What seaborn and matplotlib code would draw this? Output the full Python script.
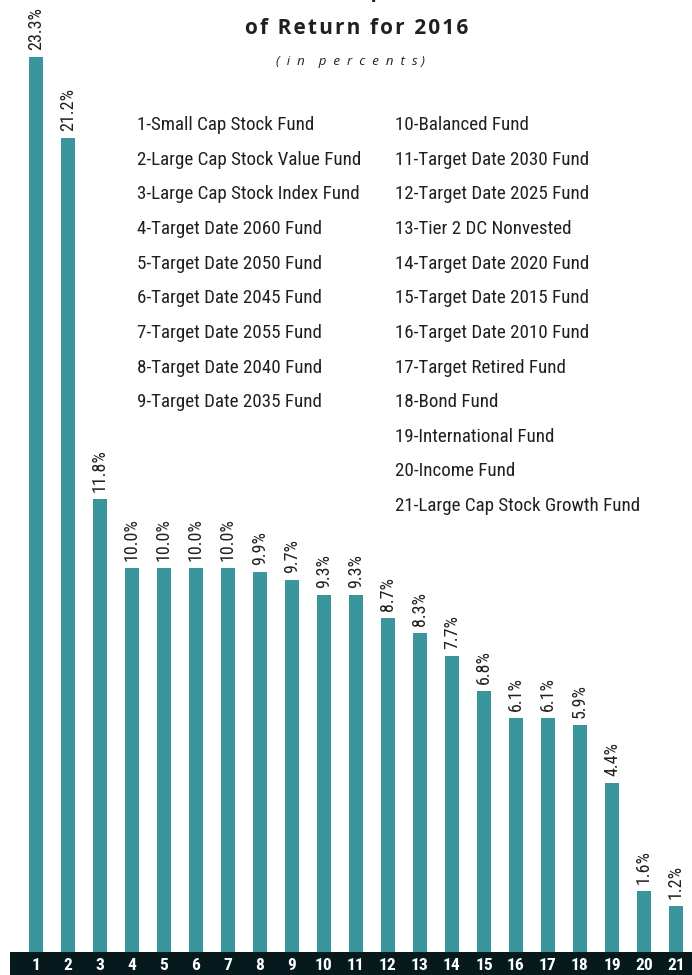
import matplotlib
matplotlib.use("Agg")
import matplotlib.pyplot as plt
import seaborn as sns
import pandas as pd
import logging

logging.getLogger("matplotlib.font_manager").setLevel(logging.ERROR)

fund_ids = [str(i) for i in range(1, 22)]
returns = [23.3, 21.2, 11.8, 10.0, 10.0, 10.0, 10.0, 9.9, 9.7, 9.3, 9.3,
           8.7, 8.3, 7.7, 6.8, 6.1, 6.1, 5.9, 4.4, 1.6, 1.2]
fund_names = [
    "Small Cap Stock Fund", "Large Cap Stock Value Fund", "Large Cap Stock Index Fund",
    "Target Date 2060 Fund", "Target Date 2050 Fund", "Target Date 2045 Fund",
    "Target Date 2055 Fund", "Target Date 2040 Fund", "Target Date 2035 Fund",
    "Balanced Fund", "Target Date 2030 Fund", "Target Date 2025 Fund",
    "Tier 2 DC Nonvested", "Target Date 2020 Fund", "Target Date 2015 Fund",
    "Target Date 2010 Fund", "Target Retired Fund", "Bond Fund",
    "International Fund", "Income Fund", "Large Cap Stock Growth Fund",
]

TEAL = "#3a959c"
DARK = "#061a1e"
TEXT = "#231f20"
NARROW = ["Roboto Condensed", "PT Sans Narrow", "Fira Sans Condensed",
          "Open Sans Condensed", "Liberation Sans Narrow", "DejaVu Sans"]

sns.set_theme(style="white")
plt.rcParams["font.family"] = ["Open Sans", "DejaVu Sans"]


def tracked(s, gap="\u200a"):
    """Spread the letters of a heading with hair spaces."""
    return gap.join(s)


df = pd.DataFrame({"fund": fund_ids, "ret": returns})

W, H = 692, 975
fig = plt.figure(figsize=(W / 100, H / 100), dpi=100)
fig.patch.set_facecolor("white")

band_h = 23
ax = fig.add_axes([10 / W, band_h / H, (W - 10) / W, (H - band_h) / H])
sns.barplot(data=df, x="fund", y="ret", color=TEAL, width=0.44,
            saturation=1, ax=ax, edgecolor="none")
ax.set_xlim(-0.81, 20.5)
ax.set_ylim(0, 952 / 38.4)
ax.axis("off")

for i, v in enumerate(returns):
    ax.annotate(f"{v:.1f}%", (i, v), xytext=(0, 5), textcoords="offset points",
                rotation=90, ha="center", va="bottom", fontsize=13,
                color=TEXT, family=NARROW)

# dark band carrying the fund numbers
band = fig.add_axes([10 / W, 0, (W - 10) / W, band_h / H])
band.set_facecolor(DARK)
band.set_xlim(ax.get_xlim())
band.set_ylim(0, 1)
band.set_xticks([])
band.set_yticks([])
for s in band.spines.values():
    s.set_visible(False)
for i, f in enumerate(fund_ids):
    band.text(i, 0.42, f, ha="center", va="center", color="white",
              fontsize=12.5, fontweight="bold", family=NARROW)

# title block
fig.text(357 / W, 1 - (-9) / H, tracked("Investment Option Rates"),
         ha="center", va="center", fontsize=15, fontweight="bold", color=TEXT)
fig.text(357 / W, 1 - 28 / H, tracked("of Return for 2016"), ha="center",
         va="center", fontsize=15, fontweight="bold", color=TEXT)
fig.text(350 / W, 1 - 61 / H, "(  i  n    p  e  r  c  e  n  t  s )",
         ha="center", va="center", fontsize=9.5, style="italic", color=TEXT)

# fund key in two columns
step = 34.65
for k, name in enumerate(fund_names):
    col = 0 if k < 9 else 1
    row = k if k < 9 else k - 9
    x = 137 if col == 0 else 395
    y = 125 + row * step
    fig.text(x / W, 1 - y / H, f"{k + 1}-{name}", ha="left", va="center",
             fontsize=13.7, color=TEXT, family=NARROW)

fig.savefig("out.png", dpi=100, facecolor="white")
